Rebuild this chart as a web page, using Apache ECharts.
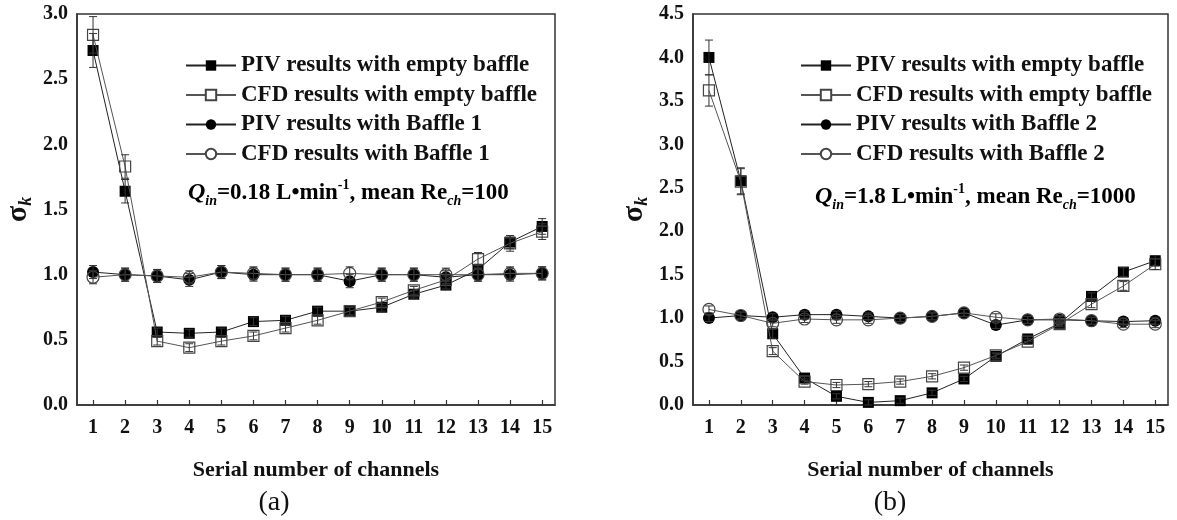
<!DOCTYPE html>
<html><head><meta charset="utf-8">
<script src="https://cdn.jsdelivr.net/npm/echarts@6/dist/echarts.min.js"></script>
<style>html,body{margin:0;padding:0;background:#fff}#c{width:1177px;height:520px}</style>
</head><body><div id="c"></div>
<script>
// ---- data ----
const channels = [1,2,3,4,5,6,7,8,9,10,11,12,13,14,15];
const yTicksA = [0,0.5,1,1.5,2,2.5,3];
const yTicksB = [0,0.5,1,1.5,2,2.5,3,3.5,4,4.5];

// panel (a)
const a_piv_empty = [2.72,1.64,0.56,0.55,0.56,0.64,0.65,0.72,0.72,0.75,0.85,0.92,1.04,1.25,1.37];
const a_cfd_empty = [2.84,1.83,0.49,0.44,0.49,0.53,0.59,0.65,0.72,0.79,0.88,0.96,1.12,1.24,1.33];
const a_piv_b1    = [1.02,1.00,0.99,0.96,1.02,1.00,1.00,1.00,0.95,1.00,1.00,0.98,1.00,1.00,1.01];
const a_cfd_b1    = [0.98,1.00,0.99,0.98,1.02,1.01,1.00,1.00,1.01,1.00,1.00,1.00,1.00,1.01,1.01];
const a_piv_empty_err = [0.13,0.09,0.03,0.03,0.03,0.03,0.03,0.03,0.03,0.03,0.03,0.03,0.04,0.05,0.06];
const a_cfd_empty_err = [0.14,0.09,0.03,0.03,0.03,0.03,0.03,0.03,0.03,0.03,0.03,0.03,0.05,0.06,0.06];
const a_piv_b1_err    = [0.05,0.05,0.05,0.05,0.05,0.05,0.05,0.05,0.05,0.05,0.05,0.05,0.05,0.05,0.05];
const a_cfd_b1_err    = [0.05,0.05,0.05,0.05,0.05,0.05,0.05,0.05,0.05,0.05,0.05,0.05,0.05,0.05,0.05];

// panel (b)
const b_piv_empty = [4.00,2.58,0.82,0.31,0.10,0.03,0.05,0.14,0.30,0.56,0.76,0.94,1.25,1.53,1.66];
const b_cfd_empty = [3.62,2.57,0.62,0.27,0.23,0.24,0.27,0.33,0.43,0.57,0.73,0.93,1.16,1.37,1.62];
const b_piv_b2    = [1.00,1.03,1.01,1.04,1.04,1.02,1.00,1.02,1.06,0.92,0.98,0.98,0.97,0.96,0.97];
const b_cfd_b2    = [1.10,1.03,0.94,0.99,0.98,0.98,1.00,1.02,1.06,1.01,0.98,0.99,0.97,0.93,0.93];
const b_piv_empty_err = [0.20,0.15,0.05,0.03,0.03,0.03,0.03,0.03,0.03,0.03,0.03,0.03,0.04,0.05,0.06];
const b_cfd_empty_err = [0.18,0.15,0.04,0.03,0.03,0.03,0.03,0.03,0.03,0.03,0.03,0.03,0.04,0.05,0.06];
const b_piv_b2_err    = [0.04,0.04,0.04,0.04,0.04,0.04,0.04,0.04,0.04,0.04,0.04,0.04,0.04,0.04,0.04];
const b_cfd_b2_err    = [0.04,0.04,0.04,0.04,0.04,0.04,0.04,0.04,0.04,0.04,0.04,0.04,0.04,0.04,0.04];

const names = {
  pivE: 'PIV results with empty baffle',
  cfdE: 'CFD results with empty baffle',
  pivB1: 'PIV results with Baffle 1',
  cfdB1: 'CFD results with Baffle 1',
  pivB2: 'PIV results with Baffle 2',
  cfdB2: 'CFD results with Baffle 2'
};

// ---- chart ----
const F = '"Liberation Serif","Times New Roman",serif';
const chart = echarts.init(document.getElementById('c'));

const pairs = v => channels.map((c,i)=>[c,v[i]]);
const errs = (v,e) => channels.map((c,i)=>[c, v[i]-e[i], v[i]+e[i]]);

function lineSeries(name, vals, gi, filled, sym, dark) {
  return {
    type:'line', name, xAxisIndex:gi, yAxisIndex:gi, data:pairs(vals),
    symbol: sym, symbolSize: sym==='rect'?11:12,
    lineStyle:{color: dark?'#222':'#555', width:1},
    itemStyle:{color: filled?'#000':'rgba(255,255,255,0)', borderColor: filled?'#000':'#444', borderWidth: filled?0:1.2},
    z: filled?2:3, animation:false, emphasis:{disabled:true}
  };
}
function errRender(params, api){
  const x=api.value(0), lo=api.value(1), hi=api.value(2);
  const p1=api.coord([x,lo]), p2=api.coord([x,hi]); const w=4;
  const st={stroke:'#333',lineWidth:1};
  return {type:'group',children:[
    {type:'line',shape:{x1:p1[0],y1:p1[1],x2:p2[0],y2:p2[1]},style:st},
    {type:'line',shape:{x1:p1[0]-w,y1:p1[1],x2:p1[0]+w,y2:p1[1]},style:st},
    {type:'line',shape:{x1:p2[0]-w,y1:p2[1],x2:p2[0]+w,y2:p2[1]},style:st}
  ]};
}
function errSeries(vals, e, gi){
  return {type:'custom', name:'err', xAxisIndex:gi, yAxisIndex:gi, data:errs(vals,e),
    renderItem:errRender, encode:{x:0,y:[1,2]}, z:4, silent:true, animation:false};
}

const labelStyle = {fontFamily:F, fontWeight:'bold', fontSize:20, color:'#111'};
function xAxisCfg(gi){
  return {type:'value', gridIndex:gi, min:0.5, max:15.4,
    axisLine:{lineStyle:{color:'#333',width:1.5}},
    axisTick:{show:true, inside:true, length:5, customValues:channels, lineStyle:{color:'#333',width:1.2}},
    axisLabel:Object.assign({customValues:channels, margin:13}, labelStyle),
    splitLine:{show:false},
    name:'Serial number of channels', nameLocation:'middle', nameGap:54,
    nameTextStyle:{fontFamily:F, fontWeight:'bold', fontSize:22, color:'#111'}};
}
function yAxisCfg(gi, max, ticks){
  return {type:'value', gridIndex:gi, min:0, max:max, interval:0.5,
    axisLine:{show:true, lineStyle:{color:'#333',width:1.5}},
    axisTick:{show:false},
    axisLabel:Object.assign({margin:9, formatter:v=>v.toFixed(1), customValues:ticks}, labelStyle),
    splitLine:{show:false},
    name:'{s|σ}{k|k}', nameLocation:'middle', nameGap:42, nameRotate:90,
    nameTextStyle:{rich:{
      s:{fontFamily:F, fontWeight:'bold', fontSize:30, color:'#111', lineHeight:34, verticalAlign:'middle'},
      k:{fontFamily:F, fontWeight:'bold', fontStyle:'italic', fontSize:18, color:'#111', lineHeight:20, verticalAlign:'bottom'}
    }}};
}

const legendText = {fontFamily:F, fontWeight:'bold', fontSize:23, color:'#111', lineHeight:22};
function legendCfg(left, list){
  return {left, top:49, orient:'vertical', itemWidth:50, itemHeight:13, itemGap:6.5,
    textStyle:legendText, selectedMode:false,
    data: list.map((n,i)=> (i%2===1 ? {name:n, itemStyle:{color:'#fff'}} : {name:n}))};
}

const richAnn = {
  m:{fontFamily:F, fontWeight:'bold', fontSize:23, color:'#111', lineHeight:30, verticalAlign:'middle'},
  q:{fontFamily:F, fontWeight:'bold', fontStyle:'italic', fontSize:24, color:'#111', lineHeight:30, verticalAlign:'middle'},
  sub:{fontFamily:F, fontWeight:'bold', fontStyle:'italic', fontSize:14, color:'#111', lineHeight:14, verticalAlign:'bottom'},
  sup:{fontFamily:F, fontWeight:'bold', fontSize:14, color:'#111', lineHeight:14, verticalAlign:'top'}
};

const option = {
  backgroundColor:'#fff',
  animation:false,
  grid:[
    {left:77, top:14, width:478, height:391, show:true, borderColor:'#333', borderWidth:1.5},
    {left:693, top:14, width:475, height:391, show:true, borderColor:'#333', borderWidth:1.5}
  ],
  xAxis:[xAxisCfg(0), xAxisCfg(1)],
  yAxis:[yAxisCfg(0,3,yTicksA), yAxisCfg(1,4.5,yTicksB)],
  legend:[
    legendCfg(180, [names.pivE, names.cfdE, names.pivB1, names.cfdB1]),
    legendCfg(795, [names.pivE, names.cfdE, names.pivB2, names.cfdB2])
  ],
  series:[
    lineSeries(names.pivE, a_piv_empty, 0, true, 'rect', true),
    lineSeries(names.cfdE, a_cfd_empty, 0, false, 'rect', false),
    lineSeries(names.pivB1, a_piv_b1, 0, true, 'circle', true),
    lineSeries(names.cfdB1, a_cfd_b1, 0, false, 'circle', false),
    errSeries(a_piv_empty, a_piv_empty_err, 0),
    errSeries(a_cfd_empty, a_cfd_empty_err, 0),
    errSeries(a_piv_b1, a_piv_b1_err, 0),
    errSeries(a_cfd_b1, a_cfd_b1_err, 0),
    lineSeries(names.pivE, b_piv_empty, 1, true, 'rect', true),
    lineSeries(names.cfdE, b_cfd_empty, 1, false, 'rect', false),
    lineSeries(names.pivB2, b_piv_b2, 1, true, 'circle', true),
    lineSeries(names.cfdB2, b_cfd_b2, 1, false, 'circle', false),
    errSeries(b_piv_empty, b_piv_empty_err, 1),
    errSeries(b_cfd_empty, b_cfd_empty_err, 1),
    errSeries(b_piv_b2, b_piv_b2_err, 1),
    errSeries(b_cfd_b2, b_cfd_b2_err, 1)
  ],
  graphic:[
    {type:'text', x:188, y:193, style:{text:'{q|Q}{sub|in}{m|=0.18 L•min}{sup|-1}{m|, mean Re}{sub|ch}{m|=100}', rich:richAnn, verticalAlign:'middle', align:'left'}},
    {type:'text', x:815, y:197, style:{text:'{q|Q}{sub|in}{m|=1.8 L•min}{sup|-1}{m|, mean Re}{sub|ch}{m|=1000}', rich:richAnn, verticalAlign:'middle', align:'left'}},
    {type:'text', x:274, y:503, style:{text:'(a)', fontFamily:F, fontSize:28, fill:'#111', align:'center', verticalAlign:'middle'}},
    {type:'text', x:890, y:503, style:{text:'(b)', fontFamily:F, fontSize:28, fill:'#111', align:'center', verticalAlign:'middle'}}
  ]
};
chart.setOption(option);
</script>
</body></html>
